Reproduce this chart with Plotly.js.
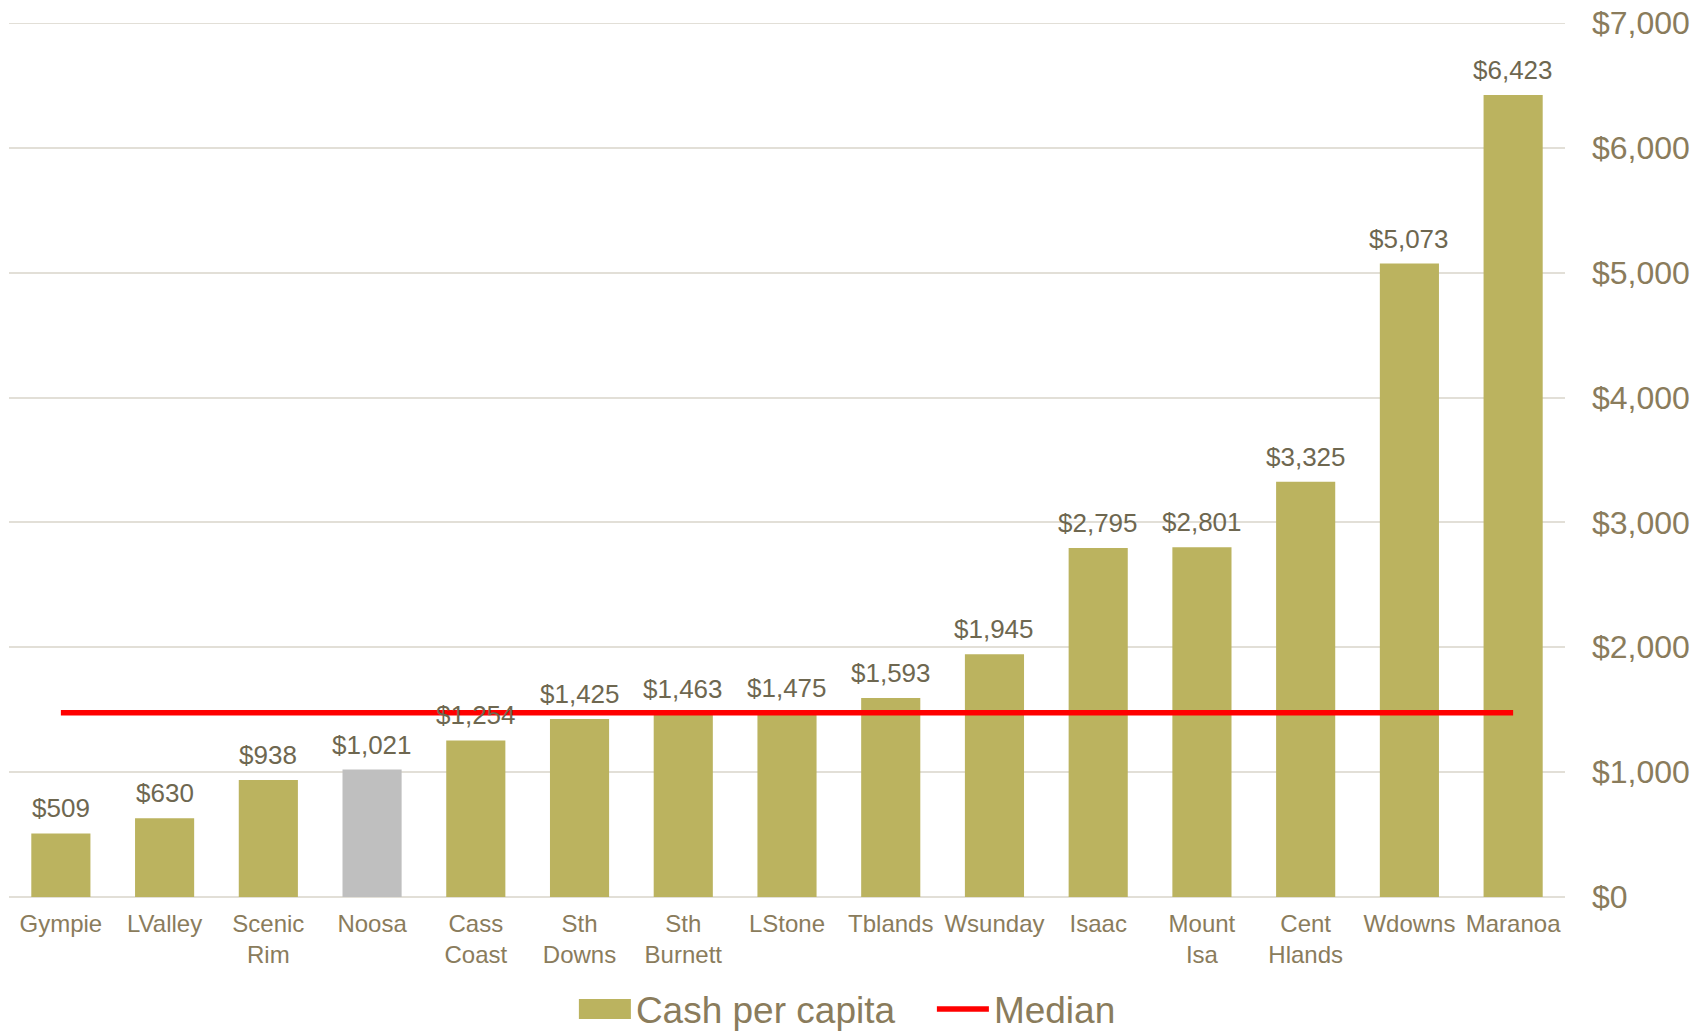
<!DOCTYPE html>
<html>
<head>
<meta charset="utf-8">
<script src="https://cdn.plot.ly/plotly-3.0.1.min.js"></script>
<style>
  html, body { margin: 0; padding: 0; background: #ffffff; }
  #chart { width: 1708px; height: 1031px; }
</style>
</head>
<body>
<div id="chart"></div>
<script>
// ---- data ----
const categories = ["Gympie", "LValley", "Scenic<br>Rim", "Noosa", "Cass<br>Coast", "Sth<br>Downs",
  "Sth<br>Burnett", "LStone", "Tblands", "Wsunday", "Isaac", "Mount<br>Isa", "Cent<br>Hlands",
  "Wdowns", "Maranoa"];
const cashPerCapita = [509, 630, 938, 1021, 1254, 1425, 1463, 1475, 1593, 1945, 2795, 2801, 3325, 5073, 6423];
const medianValues = [1475, 1475, 1475, 1475, 1475, 1475, 1475, 1475, 1475, 1475, 1475, 1475, 1475, 1475, 1475];
const highlightCategory = "Noosa";
const yTickValues = [0, 1000, 2000, 3000, 4000, 5000, 6000, 7000];
const yTickLabels = ["$0", "$1,000", "$2,000", "$3,000", "$4,000", "$5,000", "$6,000", "$7,000"];

// ---- styles ----
const FONT = "Liberation Sans, Arial, sans-serif";
const OLIVE = "#BBB35F";
const GREY = "#BFBFBF";
const TICK_COLOR = "#8A7C5C";
const LABEL_COLOR = "#6E6750";
const GRID = "#E2DFD7";

const barColors = categories.map(c => c === highlightCategory ? GREY : OLIVE);

const barTrace = {
  type: "bar",
  name: "Cash per capita",
  x: categories,
  y: cashPerCapita,
  marker: { color: barColors, line: { width: 0 } },
  hoverinfo: "skip"
};

const medianTrace = {
  type: "scatter",
  mode: "lines",
  name: "Median",
  x: categories,
  y: medianValues,
  line: { color: "#FF0000", width: 5.5 },
  hoverinfo: "skip"
};

const annotations = categories.map((c, i) => ({
  x: c,
  y: cashPerCapita[i],
  xref: "x",
  yref: "y",
  text: "$" + cashPerCapita[i].toLocaleString("en-US"),
  showarrow: false,
  yanchor: "bottom",
  yshift: 8,
  font: { family: FONT, size: 26, color: LABEL_COLOR }
}));

const layout = {
  width: 1708,
  height: 1031,
  margin: { l: 9, r: 143, t: 23, b: 134 },
  paper_bgcolor: "#ffffff",
  plot_bgcolor: "#ffffff",
  bargap: 0.43,
  showlegend: true,
  legend: {
    orientation: "h",
    xref: "container",
    yref: "container",
    x: 0.336,
    xanchor: "left",
    y: 0.021,
    yanchor: "middle",
    itemwidth: 52,
    entrywidth: 291,
    traceorder: "normal",
    font: { family: FONT, size: 37, color: TICK_COLOR },
    bgcolor: "rgba(0,0,0,0)"
  },
  xaxis: {
    type: "category",
    showgrid: false,
    showline: false,
    zeroline: false,
    ticks: "",
    tickangle: 0,
    ticklabelstandoff: 10,
    tickfont: { family: FONT, size: 24, color: TICK_COLOR },
    fixedrange: true
  },
  yaxis: {
    side: "right",
    range: [0, 7000],
    tickmode: "array",
    tickvals: yTickValues,
    ticktext: yTickLabels,
    showgrid: true,
    gridcolor: GRID,
    gridwidth: 2,
    zeroline: true,
    zerolinecolor: GRID,
    zerolinewidth: 2,
    showline: false,
    ticks: "",
    ticklabelstandoff: 26,
    tickfont: { family: FONT, size: 32, color: TICK_COLOR },
    fixedrange: true
  },
  shapes: [{
    type: "line", xref: "paper", yref: "y", layer: "below",
    x0: 0, x1: 1, y0: yTickValues[yTickValues.length - 1], y1: yTickValues[yTickValues.length - 1],
    line: { color: GRID, width: 2 }
  }],
  annotations: annotations
};

Plotly.newPlot("chart", [barTrace, medianTrace], layout, { displayModeBar: false, staticPlot: true })
  .then(() => {
    // enlarge the bar legend swatch to the wide rectangle used in the original
    const items = document.querySelectorAll(".legend .traces");
    if (items.length > 0) {
      const p = items[0].querySelector(".legendpoints path");
      if (p) { p.setAttribute("d", "M-26,10H26V-10H-26Z"); }
    }
  });
</script>
</body>
</html>
